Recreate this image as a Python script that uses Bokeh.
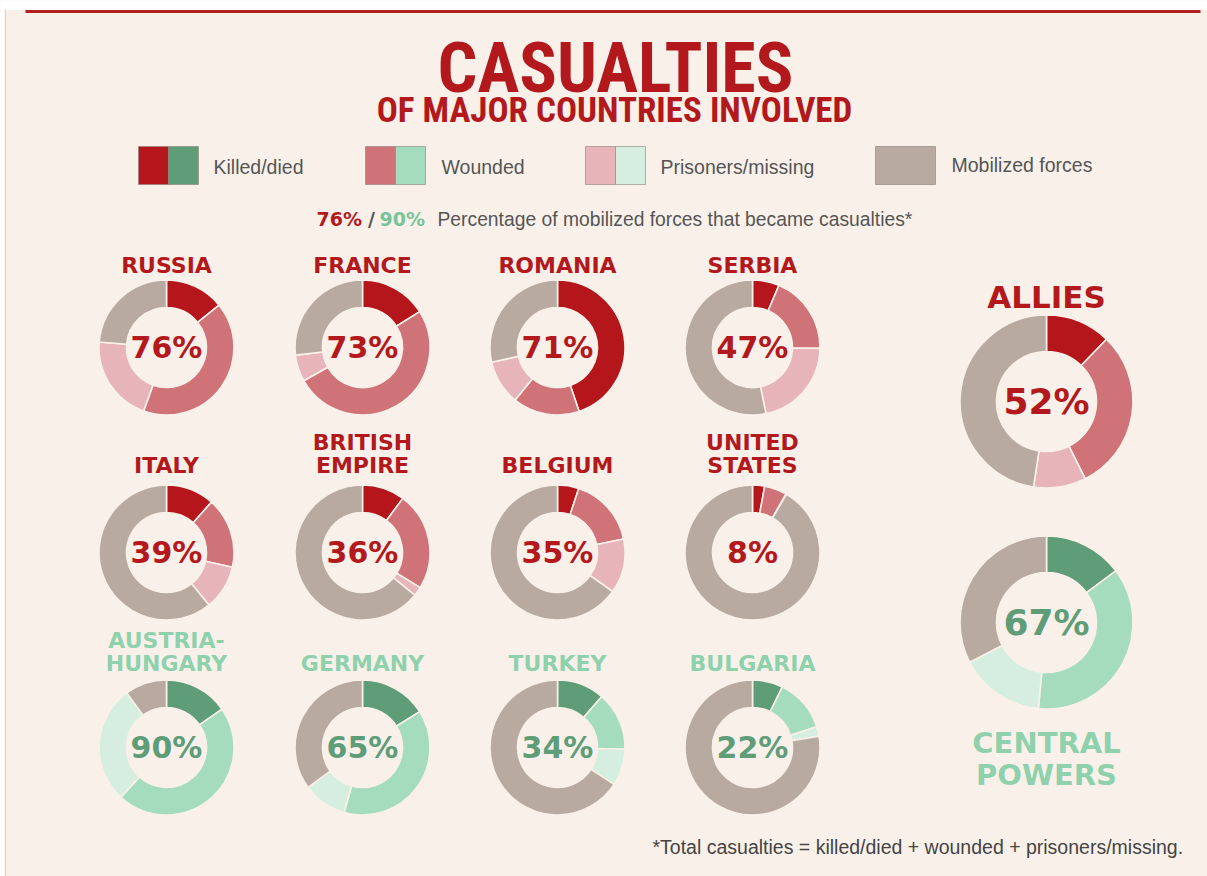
import numpy as np
from bokeh.plotting import figure
from bokeh.models import Range1d, ColumnDataSource
from bokeh.core.properties import value
from bokeh.embed import file_html
from bokeh.resources import INLINE

# ---------------- data (percent of mobilized forces) ----------------
countries = [["RUSSIA"], ["FRANCE"], ["ROMANIA"], ["SERBIA"],
             ["ITALY"], ["BRITISH", "EMPIRE"], ["BELGIUM"], ["UNITED", "STATES"],
             ["AUSTRIA-", "HUNGARY"], ["GERMANY"], ["TURKEY"], ["BULGARIA"]]
side = ["allies"] * 8 + ["central"] * 4
killed = [14.2, 16.1, 44.8, 6.4, 11.6, 10.2, 5.1, 2.9, 15.4, 16.1, 11.4, 7.3]
wounded = [41.3, 50.7, 16.0, 18.8, 16.9, 23.5, 16.7, 5.4, 46.4, 38.3, 14.0, 12.7]
prisoners = [20.8, 6.4, 10.7, 21.6, 10.7, 2.2, 13.0, 0.1, 28.2, 10.5, 8.8, 2.3]
casualty_labels = ["76%", "73%", "71%", "47%", "39%", "36%", "35%", "8%",
                   "90%", "65%", "34%", "22%"]

groups = [["ALLIES"], ["CENTRAL", "POWERS"]]
group_side = ["allies", "central"]
group_killed = [12.2, 14.8]
group_wounded = [30.4, 36.7]
group_prisoners = [9.8, 15.9]
group_labels = ["52%", "67%"]

legend_items = ["Killed/died", "Wounded", "Prisoners/missing", "Mobilized forces"]

# ---------------- styles ----------------
BG = "#f9f1e9"
RED_TXT = "#b3191c"
GREEN_TXT = "#5f9d79"
GREEN_LBL = "#8fd1ad"
MOB = "#b8aaa0"
PAL = {
    "allies": ["#b5161b", "#cf7379", "#e7b4b9"],
    "central": ["#5f9d79", "#a4dcbd", "#d5eedf"],
}

W, H = 1207, 876
def Y(v):
    return H - v

p = figure(width=W, height=H, x_range=Range1d(0, W), y_range=Range1d(0, H),
           output_backend="svg", toolbar_location=None, min_border=0,
           x_axis_type=None, y_axis_type=None,
           background_fill_color=BG, border_fill_color=BG, outline_line_color=None)

# white strip, left rule and top red rule
p.quad(left=[0], right=[W], top=[Y(0)], bottom=[Y(9.5)], color="white", line_color=None)
p.quad(left=[0], right=[4], top=[Y(0)], bottom=[Y(H)], color="white", line_color=None)
p.quad(left=[4.5], right=[5.5], top=[Y(9)], bottom=[Y(H)], color="#d9cfc8", line_color=None)
p.quad(left=[25], right=[1200], top=[Y(9.5)], bottom=[Y(12.5)], color="#b0201f", line_color=None)

# ---------------- titles ----------------
COND = value("'Liberation Sans Narrow', 'Roboto Condensed', 'Liberation Sans', sans-serif")
p.text(x=[615], y=[Y(67)], text=["CASUALTIES"], text_font=COND, text_font_style="bold",
       text_font_size="70px", text_align="center", text_baseline="middle", text_color=RED_TXT)
p.text(x=[614], y=[Y(110)], text=["OF MAJOR COUNTRIES INVOLVED"], text_font=COND,
       text_font_style="bold", text_font_size="35px", text_align="center",
       text_baseline="middle", text_color=RED_TXT)

# ---------------- legend ----------------
box_left = [138, 365, 585, 875]
text_left = [213, 441, 660, 951]
for i, name in enumerate(legend_items):
    l = box_left[i]
    if i < 3:
        p.quad(left=[l], right=[l + 30], top=[Y(146)], bottom=[Y(184)],
               color=PAL["allies"][i], line_color="#8a7f78", line_width=0.6)
        p.quad(left=[l + 30], right=[l + 60], top=[Y(146)], bottom=[Y(184)],
               color=PAL["central"][i], line_color="#8a7f78", line_width=0.6)
    else:
        p.quad(left=[l], right=[l + 60], top=[Y(146)], bottom=[Y(184)],
               color=MOB, line_color="#8a7f78", line_width=0.6)
    p.text(x=[text_left[i]], y=[Y(166 if i < 3 else 164)], text=[name],
           text_font=value("Liberation Sans"), text_font_size="19.5px",
           text_baseline="middle", text_color="#555555")

BOLD = value("DejaVu Sans")
p.text(x=[316], y=[Y(218)], text=["76%"], text_font=BOLD, text_font_style="bold",
       text_font_size="19px", text_baseline="middle", text_color=RED_TXT)
p.text(x=[371], y=[Y(218)], text=["/"], text_font=BOLD, text_font_style="bold",
       text_font_size="19px", text_baseline="middle", text_align="center", text_color="#555555")
p.text(x=[379], y=[Y(218)], text=["90%"], text_font=BOLD, text_font_style="bold",
       text_font_size="19px", text_baseline="middle", text_color="#78c39a")
p.text(x=[437], y=[Y(219)], text=["Percentage of mobilized forces that became casualties*"],
       text_font=value("Liberation Sans"), text_font_size="19.3px",
       text_baseline="middle", text_color="#555555")

# ---------------- donuts ----------------
wedges = dict(x=[], y=[], r_in=[], r_out=[], start=[], end=[], color=[])

def add_donut(cx, cy, r_in, r_out, parts, colors):
    fr = np.array(parts, dtype=float) / 100.0
    cum = np.concatenate([[0.0], np.cumsum(fr)])
    for k in range(len(fr)):
        wedges["x"].append(cx)
        wedges["y"].append(cy)
        wedges["r_in"].append(r_in)
        wedges["r_out"].append(r_out)
        wedges["start"].append(np.pi / 2 - 2 * np.pi * cum[k])
        wedges["end"].append(np.pi / 2 - 2 * np.pi * cum[k + 1])
        wedges["color"].append(colors[k])

col_x = [166, 362, 557, 752]
row_y = [347, 552, 747]
label_last_y = [265, 465, 663]
LINE = 23

pct_src = dict(x=[], y=[], text=[], color=[], size=[])
lbl_src = dict(x=[], y=[], text=[], color=[], size=[])

for i in range(len(countries)):
    r, c = divmod(i, 4)
    cx, cy = col_x[c], Y(row_y[r])
    s = side[i]
    rest = 100 - killed[i] - wounded[i] - prisoners[i]
    add_donut(cx, cy, 40, 67.5, [killed[i], wounded[i], prisoners[i], rest],
              PAL[s] + [MOB])
    pct_src["x"].append(cx)
    pct_src["y"].append(cy)
    pct_src["text"].append(casualty_labels[i])
    pct_src["color"].append(RED_TXT if s == "allies" else GREEN_TXT)
    pct_src["size"].append("30px")
    lines = countries[i]
    for j, t in enumerate(lines):
        yy = label_last_y[r] - LINE * (len(lines) - 1 - j)
        lbl_src["x"].append(cx)
        lbl_src["y"].append(Y(yy))
        lbl_src["text"].append(t)
        lbl_src["color"].append(RED_TXT if s == "allies" else GREEN_LBL)
        lbl_src["size"].append("22px")

group_center_y = [401, 622]
group_label_y = [[296], [742, 774]]
group_label_size = ["31px", "29px"]
for g in range(2):
    cx, cy = 1046, Y(group_center_y[g])
    s = group_side[g]
    rest = 100 - group_killed[g] - group_wounded[g] - group_prisoners[g]
    add_donut(cx, cy, 50, 86.5, [group_killed[g], group_wounded[g], group_prisoners[g], rest],
              PAL[s] + [MOB])
    pct_src["x"].append(cx)
    pct_src["y"].append(cy)
    pct_src["text"].append(group_labels[g])
    pct_src["color"].append(RED_TXT if s == "allies" else GREEN_TXT)
    pct_src["size"].append("36px")
    for j, t in enumerate(groups[g]):
        lbl_src["x"].append(cx)
        lbl_src["y"].append(Y(group_label_y[g][j]))
        lbl_src["text"].append(t)
        lbl_src["color"].append(RED_TXT if s == "allies" else GREEN_LBL)
        lbl_src["size"].append(group_label_size[g])

p.annular_wedge(x="x", y="y", inner_radius="r_in", outer_radius="r_out",
                start_angle="start", end_angle="end", direction="clock",
                fill_color="color", line_color=BG, line_width=1.6,
                source=ColumnDataSource(wedges))

p.text(x="x", y="y", text="text", text_color="color", text_font_size="size",
       text_font=BOLD, text_font_style="bold", text_align="center",
       text_baseline="middle", source=ColumnDataSource(pct_src))
p.text(x="x", y="y", text="text", text_color="color", text_font_size="size",
       text_font=BOLD, text_font_style="bold", text_align="center",
       text_baseline="middle", source=ColumnDataSource(lbl_src))

# ---------------- footnote ----------------
p.text(x=[652], y=[Y(846)], text=["*Total casualties = killed/died + wounded + prisoners/missing."],
       text_font=value("Liberation Sans"), text_font_size="19.5px",
       text_baseline="middle", text_color="#444444")

open("out.html", "w").write(file_html(p, INLINE))
